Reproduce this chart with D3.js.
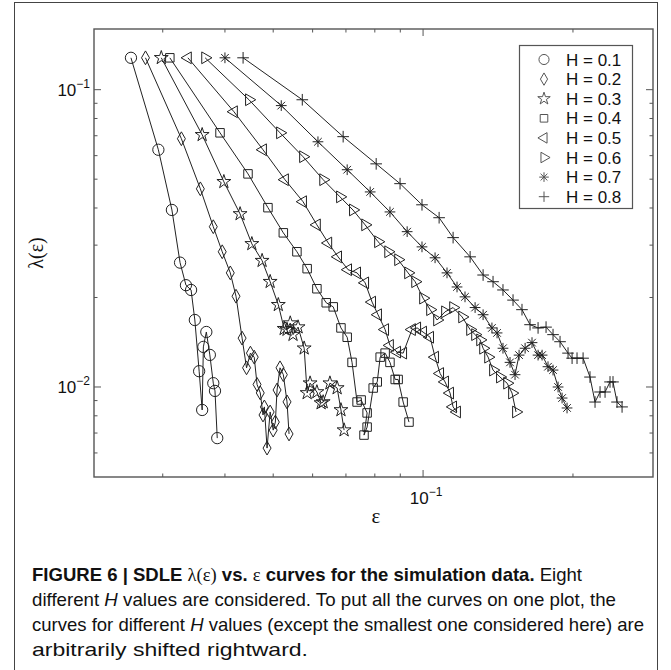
<!DOCTYPE html>
<html><head><meta charset="utf-8">
<script src="https://cdn.jsdelivr.net/npm/d3@7"></script>
<style>body{margin:0;background:#fff} svg{display:block}</style>
</head><body>
<svg id="fig" width="671" height="670"></svg>
<script>
// SDLE λ(ε) curves, one per Hurst exponent H
const seriesLabels = ["H = 0.1","H = 0.2","H = 0.3","H = 0.4","H = 0.5","H = 0.6","H = 0.7","H = 0.8"];

const epsH1 = [0.0259,0.0294,0.0313,0.0325,0.0334,0.0342,0.0348,0.0355,0.0360,0.0362,0.0367,0.0373,0.0379,0.0382,0.0386];
const lamH1 = [0.128,0.0628,0.0394,0.0262,0.0220,0.0212,0.0168,0.0113,0.00837,0.01364,0.01531,0.01282,0.0103,0.0097,0.00673];

const epsH2 = [0.0277,0.0327,0.0357,0.0379,0.0395,0.0410,0.0421,0.0433,0.0442,0.0450,0.0458,0.0464,0.0471,0.0477,0.0480,0.0486,0.0493,0.0500,0.0505,0.0509,0.0516,0.0524,0.0533,0.0538];
const lamH2 = [0.128,0.0684,0.0464,0.0346,0.0285,0.0242,0.0202,0.0146,0.0116,0.0130,0.0126,0.0102,0.00955,0.00805,0.00857,0.00623,0.00824,0.00716,0.00762,0.00977,0.0116,0.0110,0.00891,0.00695];

const epsH3 = [0.0298,0.0360,0.0398,0.0429,0.0453,0.0475,0.0493,0.0512,0.0526,0.0533,0.0541,0.0548,0.0561,0.0577,0.0585,0.0593,0.0612,0.0624,0.0630,0.0650,0.0672,0.0684,0.0694];
const lamH3 = [0.128,0.0705,0.0490,0.0382,0.0303,0.0266,0.0226,0.0189,0.0157,0.0156,0.0164,0.0150,0.0159,0.0135,0.00955,0.0103,0.00962,0.00883,0.00890,0.0103,0.00992,0.00837,0.00716];

const epsH4 = [0.0310,0.0391,0.0445,0.0488,0.0524,0.0558,0.0585,0.0612,0.0639,0.0660,0.0684,0.0704,0.0720,0.0737,0.0751,0.0772,0.0761,0.0772,0.0794,0.0809,0.0820,0.0839,0.0858,0.0879,0.0891,0.0912,0.0937];
const lamH4 = [0.128,0.0716,0.0521,0.0401,0.0330,0.0285,0.0250,0.0214,0.0192,0.0186,0.0158,0.0147,0.0121,0.00890,0.00904,0.00818,0.00689,0.00733,0.00992,0.0104,0.0126,0.0130,0.0121,0.0106,0.0106,0.00890,0.00762];

const epsH5 = [0.0337,0.0417,0.0477,0.0528,0.0574,0.0612,0.0645,0.0675,0.0707,0.0737,0.0765,0.0790,0.0812,0.0839,0.0858,0.0887,0.0912,0.0950,0.0973,0.1000,0.1033,0.1057,0.1082,0.1107,0.1133,0.1149,0.1170];
const lamH5 = [0.128,0.0843,0.0628,0.0498,0.0420,0.0351,0.0305,0.0274,0.0248,0.0242,0.0224,0.0193,0.0175,0.0156,0.0138,0.0131,0.0130,0.0156,0.0158,0.0153,0.0147,0.0126,0.0111,0.0104,0.00954,0.00857,0.00824];

const epsH6 = [0.0365,0.0447,0.0516,0.0574,0.0630,0.0681,0.0723,0.0765,0.0812,0.0851,0.0891,0.0933,0.0964,0.1000,0.1033,0.1067,0.1107,0.1149,0.1198,0.1243,0.1272,0.1302,0.1320,0.1351,0.1382,0.1427,0.1475,0.1509,0.1537];
const lamH6 = [0.128,0.0925,0.0716,0.0595,0.0498,0.0436,0.0394,0.0351,0.0308,0.0285,0.0268,0.0242,0.0226,0.0199,0.0182,0.0168,0.0179,0.0185,0.0172,0.0156,0.0150,0.0144,0.0135,0.0126,0.0114,0.0108,0.0103,0.00954,0.00824];

const epsH7 = [0.0400,0.0519,0.0615,0.0704,0.0783,0.0858,0.0929,0.0995,0.1057,0.1117,0.1170,0.1214,0.1272,0.1320,0.1375,0.1408,0.1447,0.1495,0.1530,0.1559,0.1603,0.1655,0.1702,0.1734,0.1782,0.1824,0.1867,0.1902,0.1946];
const lamH7 = [0.128,0.0884,0.0668,0.0538,0.0453,0.0388,0.0333,0.0296,0.0272,0.0242,0.0217,0.0201,0.0185,0.0175,0.0158,0.0152,0.0135,0.0121,0.0110,0.0128,0.0135,0.0141,0.0128,0.0128,0.0117,0.0114,0.0100,0.00918,0.00850];

const epsH8 = [0.0435,0.0572,0.0691,0.0805,0.0899,0.0995,0.1077,0.1149,0.1243,0.1320,0.1382,0.1447,0.1516,0.1580,0.1640,0.1702,0.1766,0.1824,0.1884,0.1955,0.1992,0.2038,0.2096,0.2164,0.2215,0.2267,0.2320,0.2374,0.2407,0.2452,0.2510];
const lamH8 = [0.128,0.0925,0.0695,0.0563,0.0483,0.0410,0.0371,0.0318,0.0274,0.0238,0.0226,0.0212,0.0196,0.0182,0.0162,0.0158,0.0159,0.0150,0.0142,0.0130,0.0125,0.0125,0.0125,0.0108,0.00890,0.00962,0.00962,0.0104,0.0104,0.00890,0.00857];

const xMinorTicks = [0.03,0.04,0.05,0.06,0.07,0.08,0.09,0.2];
const xMajorTicks = [0.1];
const yMinorTicks = [0.006,0.007,0.008,0.009,0.02,0.03,0.04,0.05,0.06,0.07,0.08,0.09];
const yMajorTicks = [0.01,0.1];
const xTickLabels = [["10","\u22121"]];
const yTickLabels = [["10","\u22122"],["10","\u22121"]];

const epsSeries = [epsH1,epsH2,epsH3,epsH4,epsH5,epsH6,epsH7,epsH8];
const lamSeries = [lamH1,lamH2,lamH3,lamH4,lamH5,lamH6,lamH7,lamH8];

// ---- layout ----
const svg = d3.select("#fig");
const ink = "#222", axisInk = "#555";
const plot = {left: 94, right: 653, top: 29, bottom: 477};

const x = d3.scaleLog().domain([0.02183, 0.2896]).range([plot.left, plot.right]);
const y = d3.scaleLog().domain([0.00498, 0.160]).range([plot.bottom, plot.top]);

// outer figure frame
svg.append("rect").attr("x",14.5).attr("y",2.5).attr("width",643).attr("height",680)
  .attr("fill","none").attr("stroke","#444").attr("stroke-width",1);

// ---- marker shapes ----
const rot = (type, deg) => ({draw(ctx, size){
  const pts = [];
  const c = {moveTo:(a,b)=>pts.push(["M",a,b]), lineTo:(a,b)=>pts.push(["L",a,b]), closePath:()=>pts.push(["Z"])};
  type.draw(c, size);
  const t = deg*Math.PI/180, cs = Math.cos(t), sn = Math.sin(t);
  for (const p of pts) {
    if (p[0]==="Z") ctx.closePath();
    else { const a = p[1]*cs - p[2]*sn, b = p[1]*sn + p[2]*cs; p[0]==="M" ? ctx.moveTo(a,b) : ctx.lineTo(a,b); }
  }
}});
const symAsterisk = {draw(ctx, size){
  const r = Math.sqrt(size)/2, d = r*Math.SQRT1_2;
  ctx.moveTo(-r,0); ctx.lineTo(r,0); ctx.moveTo(0,-r); ctx.lineTo(0,r);
  ctx.moveTo(-d,-d); ctx.lineTo(d,d); ctx.moveTo(-d,d); ctx.lineTo(d,-d);
}};
const symCross = {draw(ctx, size){
  const r = Math.sqrt(size)/2;
  ctx.moveTo(-r,0); ctx.lineTo(r,0); ctx.moveTo(0,-r); ctx.lineTo(0,r);
}};
const markerTypes = [d3.symbolCircle, d3.symbolDiamond, d3.symbolStar, d3.symbolSquare,
  rot(d3.symbolTriangle,-90), rot(d3.symbolTriangle,90), symAsterisk, symCross];
const markerSizes = [100, 55, 60, 72, 60, 60, 115, 135];

// ---- axes ----
const gx = svg.append("g");
function tickSet(scale, values, len, orient){
  const g = gx.append("g");
  values.forEach(v => {
    const p = scale(v);
    if (orient==="x") {
      g.append("line").attr("x1",p).attr("x2",p).attr("y1",plot.bottom).attr("y2",plot.bottom-len);
      g.append("line").attr("x1",p).attr("x2",p).attr("y1",plot.top).attr("y2",plot.top+len);
    } else {
      g.append("line").attr("y1",p).attr("y2",p).attr("x1",plot.left).attr("x2",plot.left+len);
      g.append("line").attr("y1",p).attr("y2",p).attr("x1",plot.right).attr("x2",plot.right-len);
    }
  });
  g.attr("stroke",axisInk).attr("stroke-width",1);
}
tickSet(x, xMinorTicks, 3.5, "x");
tickSet(x, xMajorTicks, 7, "x");
tickSet(y, yMinorTicks, 3.5, "y");
tickSet(y, yMajorTicks, 7, "y");

svg.append("rect").attr("x",plot.left).attr("y",plot.top)
  .attr("width",plot.right-plot.left).attr("height",plot.bottom-plot.top)
  .attr("fill","none").attr("stroke",axisInk).attr("stroke-width",1.4);

const tickFont = "'Liberation Sans', Arial, sans-serif";
xMajorTicks.forEach((v,i) => {
  const t = svg.append("text").attr("x",x(v)+3).attr("y",504).attr("text-anchor","middle")
    .attr("font-family",tickFont).attr("font-size",17).attr("fill","#111");
  t.append("tspan").text(xTickLabels[i][0]);
  t.append("tspan").attr("dy",-8).attr("font-size",12).text(xTickLabels[i][1]);
});
yMajorTicks.forEach((v,i) => {
  const t = svg.append("text").attr("x",90).attr("y",y(v)+6).attr("text-anchor","end")
    .attr("font-family",tickFont).attr("font-size",17).attr("fill","#111");
  t.append("tspan").text(yTickLabels[i][0]);
  t.append("tspan").attr("dy",-8).attr("font-size",12).text(yTickLabels[i][1]);
});

// axis titles
svg.append("text").attr("x",376).attr("y",523).attr("text-anchor","middle")
  .attr("font-family","'Liberation Serif','Times New Roman',serif").attr("font-size",21).attr("fill","#111")
  .text("ε");
svg.append("text").attr("transform","translate(43,253) rotate(-90)").attr("text-anchor","middle")
  .attr("font-family","'Liberation Serif','Times New Roman',serif").attr("font-size",20).attr("fill","#111")
  .text("λ(ε)");

// ---- curves ----
const line = d3.line().x(d => x(d[0])).y(d => y(d[1]));
const curves = svg.append("g");
epsSeries.forEach((eps, k) => {
  const pts = eps.map((e,i) => [e, lamSeries[k][i]]);
  curves.append("path").attr("d", line(pts)).attr("fill","none")
    .attr("stroke",ink).attr("stroke-width",1);
  const sym = d3.symbol().type(markerTypes[k]).size(markerSizes[k]);
  curves.append("g").selectAll("path").data(pts).join("path")
    .attr("transform", d => `translate(${x(d[0])},${y(d[1])})`)
    .attr("d", sym).attr("fill","none").attr("stroke",ink).attr("stroke-width",1);
});

// ---- legend ----
const leg = svg.append("g");
leg.append("rect").attr("x",519.5).attr("y",45.5).attr("width",113).attr("height",163)
  .attr("fill","#fff").attr("stroke",axisInk).attr("stroke-width",1.2);
seriesLabels.forEach((lab,k) => {
  const cy = 59.5 + k*19.6;
  leg.append("path").attr("transform",`translate(544,${cy})`)
    .attr("d", d3.symbol().type(markerTypes[k]).size(markerSizes[k]*0.8))
    .attr("fill","none").attr("stroke","#555").attr("stroke-width",1);
  leg.append("text").attr("x",566).attr("y",cy+6)
    .attr("font-family",tickFont).attr("font-size",17).attr("fill","#111").text(lab);
});

// ---- caption ----
const capFont = "'Liberation Sans Narrow','Arial Narrow','Liberation Sans',Arial,sans-serif";
const cap = svg.append("g").attr("font-family",capFont).attr("font-size",18.5).attr("fill","#111");
const l1 = cap.append("text").attr("x",32).attr("y",581).attr("textLength",550).attr("lengthAdjust","spacingAndGlyphs");
l1.append("tspan").attr("font-weight","bold").text("FIGURE 6 | SDLE ");
l1.append("tspan").attr("font-family","'Liberation Serif',serif").text("λ(ε)");
l1.append("tspan").attr("font-weight","bold").text(" vs. ");
l1.append("tspan").attr("font-family","'Liberation Serif',serif").text("ε");
l1.append("tspan").attr("font-weight","bold").text(" curves for the simulation data.");
l1.append("tspan").text(" Eight");
const l2 = cap.append("text").attr("x",32).attr("y",606).attr("textLength",584).attr("lengthAdjust","spacingAndGlyphs");
l2.append("tspan").text("different ");
l2.append("tspan").attr("font-style","italic").text("H");
l2.append("tspan").text(" values are considered. To put all the curves on one plot, the");
const l3 = cap.append("text").attr("x",32).attr("y",631).attr("textLength",612).attr("lengthAdjust","spacingAndGlyphs");
l3.append("tspan").text("curves for different ");
l3.append("tspan").attr("font-style","italic").text("H");
l3.append("tspan").text(" values (except the smallest one considered here) are");
cap.append("text").attr("x",32).attr("y",656).attr("textLength",276).attr("lengthAdjust","spacingAndGlyphs")
  .text("arbitrarily shifted rightward.");
</script>
</body></html>
